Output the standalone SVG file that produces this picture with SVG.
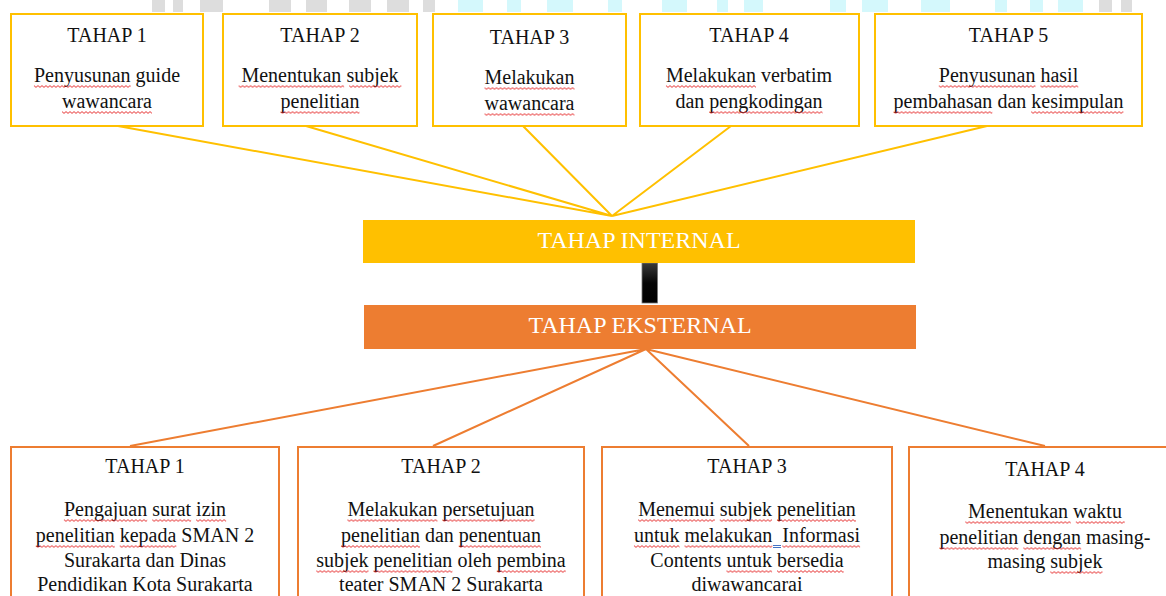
<svg xmlns="http://www.w3.org/2000/svg" width="1166" height="596" viewBox="0 0 1166 596">
<style>
.t{font-family:"Liberation Serif","Times New Roman",serif;font-size:20px;fill:#111;text-anchor:middle}
.bar{font-family:"Liberation Serif","Times New Roman",serif;font-size:24px;fill:#fff;text-anchor:middle}
.yb{fill:#fff;stroke:#FFC000;stroke-width:2}
.ob{fill:#fff;stroke:#ED7D31;stroke-width:2}
.yl{stroke:#FFC000;stroke-width:2;fill:none}
.ol{stroke:#ED7D31;stroke-width:2;fill:none}
.sq rect{fill:url(#wv)}
.wg{fill:#DDDDDD}
.wc{fill:#D4F8FC}
</style>
<defs>
<linearGradient id="blk" x1="0" y1="0" x2="0" y2="1">
<stop offset="0" stop-color="#3a3a3a"/>
<stop offset="0.5" stop-color="#050505"/>
<stop offset="1" stop-color="#000"/>
</linearGradient>
<pattern id="wv" width="4" height="3" patternUnits="userSpaceOnUse">
<path d="M0 0.6 L2 2.4 L4 0.6" fill="none" stroke="#e41b1b" stroke-width="0.9"/>
</pattern>
</defs>
<rect width="1166" height="596" fill="#fff"/>
<g id="watermark">
<rect class="wg" x="152" y="0" width="13" height="12"/>
<rect class="wg" x="173" y="0" width="10" height="12"/>
<rect class="wg" x="200" y="0" width="23" height="12"/>
<rect class="wg" x="269" y="0" width="22" height="12"/>
<rect class="wg" x="306" y="0" width="21" height="12"/>
<rect class="wg" x="349" y="0" width="22" height="12"/>
<rect class="wg" x="387" y="0" width="22" height="12"/>
<rect class="wg" x="423" y="0" width="12" height="12"/>
<rect class="wc" x="458" y="0" width="25" height="12"/>
<rect class="wc" x="507" y="0" width="14" height="12"/>
<rect class="wc" x="547" y="0" width="26" height="12"/>
<rect class="wc" x="608" y="0" width="14" height="12"/>
<rect class="wc" x="662" y="0" width="25" height="12"/>
<rect class="wc" x="717" y="0" width="11" height="12"/>
<rect class="wc" x="744" y="0" width="19" height="12"/>
<rect class="wc" x="830" y="0" width="16" height="12"/>
<rect class="wc" x="862" y="0" width="26" height="12"/>
<rect class="wc" x="921" y="0" width="29" height="12"/>
<rect class="wc" x="995" y="0" width="12" height="12"/>
<rect class="wc" x="1030" y="0" width="13" height="12"/>
<rect class="wc" x="1058" y="0" width="25" height="12"/>
<rect class="wg" x="1099" y="0" width="13" height="12"/>
<rect class="wg" x="1121" y="0" width="11" height="12"/>
</g>
<g id="connectors">
<path class="yl" d="M118 126 L612 216 M306 126 L612 216 M523 126 L612 216 M731 126 L612 216 M987 126 L612 216"/>
<path class="ol" d="M646 349 L130 446 M646 349 L433 446 M646 349 L749 446 M646 349 L1045 446"/>
<rect x="642" y="263" width="15.5" height="40" fill="url(#blk)" stroke="#777" stroke-width="0.8"/>
</g>
<g id="int-1">
<rect class="yb" x="11" y="14" width="192" height="112"/>
<text class="t" x="107" y="42">TAHAP 1</text>
<text class="t" x="107" y="82"><tspan>Penyusunan</tspan> guide</text>
<text class="t" x="107" y="108"><tspan>wawancara</tspan></text>
</g>
<g id="int-2">
<rect class="yb" x="223" y="14" width="194" height="112"/>
<text class="t" x="320" y="42">TAHAP 2</text>
<text class="t" x="320" y="82"><tspan>Menentukan</tspan> <tspan>subjek</tspan></text>
<text class="t" x="320" y="108"><tspan>penelitian</tspan></text>
</g>
<g id="int-3">
<rect class="yb" x="433" y="14" width="193" height="112"/>
<text class="t" x="529.5" y="44">TAHAP 3</text>
<text class="t" x="529.5" y="84"><tspan>Melakukan</tspan></text>
<text class="t" x="529.5" y="110"><tspan>wawancara</tspan></text>
</g>
<g id="int-4">
<rect class="yb" x="640" y="14" width="219" height="112"/>
<text class="t" x="749" y="42">TAHAP 4</text>
<text class="t" x="749" y="82"><tspan>Melakukan</tspan> verbatim</text>
<text class="t" x="749" y="108">dan <tspan>pengkodingan</tspan></text>
</g>
<g id="int-5">
<rect class="yb" x="875" y="14" width="267" height="112"/>
<text class="t" x="1008.5" y="42">TAHAP 5</text>
<text class="t" x="1008.5" y="82"><tspan>Penyusunan</tspan> <tspan>hasil</tspan></text>
<text class="t" x="1008.5" y="108"><tspan>pembahasan</tspan> dan <tspan>kesimpulan</tspan></text>
</g>
<g id="internal">
<rect x="363" y="220" width="552" height="43" fill="#FFC000"/>
<text class="bar" x="639" y="248">TAHAP INTERNAL</text>
</g>
<g id="external">
<rect x="364" y="305" width="552" height="44" fill="#ED7D31"/>
<text class="bar" x="640" y="333">TAHAP EKSTERNAL</text>
</g>
<g id="ext-1">
<rect class="ob" x="11" y="447" width="268" height="160"/>
<text class="t" x="145" y="473">TAHAP 1</text>
<text class="t" x="145" y="516"><tspan>Pengajuan</tspan> <tspan>surat</tspan> <tspan>izin</tspan></text>
<text class="t" x="145" y="542"><tspan>penelitian</tspan> <tspan>kepada</tspan> SMAN 2</text>
<text class="t" x="145" y="567">Surakarta dan Dinas</text>
<text class="t" x="145" y="591">Pendidikan Kota Surakarta</text>
</g>
<g id="ext-2">
<rect class="ob" x="298" y="447" width="286" height="160"/>
<text class="t" x="441" y="473">TAHAP 2</text>
<text class="t" x="441" y="516"><tspan>Melakukan</tspan> <tspan>persetujuan</tspan></text>
<text class="t" x="441" y="542"><tspan>penelitian</tspan> dan <tspan>penentuan</tspan></text>
<text class="t" x="441" y="567"><tspan>subjek</tspan> <tspan>penelitian</tspan> oleh <tspan>pembina</tspan></text>
<text class="t" x="441" y="591">teater SMAN 2 Surakarta</text>
</g>
<g id="ext-3">
<rect class="ob" x="602" y="447" width="290" height="160"/>
<text class="t" x="747" y="473">TAHAP 3</text>
<text class="t" x="747" y="516"><tspan>Menemui</tspan> <tspan>subjek</tspan> <tspan>penelitian</tspan></text>
<text class="t" x="747" y="542"><tspan>untuk</tspan> <tspan>melakukan</tspan>&#160; <tspan>Informasi</tspan></text>
<text class="t" x="747" y="567">Contents <tspan>untuk</tspan> <tspan>bersedia</tspan></text>
<text class="t" x="747" y="591">diwawancarai</text>
</g>
<g id="ext-4">
<rect class="ob" x="909" y="447" width="275" height="160"/>
<text class="t" x="1045" y="476">TAHAP 4</text>
<text class="t" x="1045" y="518"><tspan>Menentukan</tspan> <tspan>waktu</tspan></text>
<text class="t" x="1045" y="544"><tspan>penelitian</tspan> <tspan>dengan</tspan> masing-</text>
<text class="t" x="1045" y="568">masing <tspan>subjek</tspan></text>
</g>
<g id="spelling-marks" class="sq">
<rect width="96.7" height="3" transform="translate(33.95,85)"/>
<rect width="89.9" height="3" transform="translate(62.03,111)"/>
<rect width="105.5" height="3" transform="translate(238.62,85)"/>
<rect width="52.2" height="3" transform="translate(349.16,85)"/>
<rect width="78.9" height="3" transform="translate(280.56,111)"/>
<rect width="90" height="3" transform="translate(484.51,87)"/>
<rect width="89.9" height="3" transform="translate(484.53,113)"/>
<rect width="90" height="3" transform="translate(665.96,85)"/>
<rect width="113.3" height="3" transform="translate(709.28,111)"/>
<rect width="96.7" height="3" transform="translate(938.78,85)"/>
<rect width="37.8" height="3" transform="translate(1040.44,85)"/>
<rect width="98.7" height="3" transform="translate(893.61,111)"/>
<rect width="92.2" height="3" transform="translate(1031.17,111)"/>
<rect width="83.3" height="3" transform="translate(63.9,519)"/>
<rect width="38.9" height="3" transform="translate(152.22,519)"/>
<rect width="30" height="3" transform="translate(196.1,519)"/>
<rect width="78.9" height="3" transform="translate(35.85,545)"/>
<rect width="56.6" height="3" transform="translate(119.73,545)"/>
<rect width="90" height="3" transform="translate(347.41,519)"/>
<rect width="92.2" height="3" transform="translate(442.39,519)"/>
<rect width="78.9" height="3" transform="translate(341.02,545)"/>
<rect width="82.2" height="3" transform="translate(458.78,545)"/>
<rect width="52.2" height="3" transform="translate(316.29,570)"/>
<rect width="78.9" height="3" transform="translate(373.51,570)"/>
<rect width="68.9" height="3" transform="translate(496.83,570)"/>
<rect width="76.7" height="3" transform="translate(638.12,519)"/>
<rect width="52.2" height="3" transform="translate(719.78,519)"/>
<rect width="78.9" height="3" transform="translate(777,519)"/>
<rect width="45.6" height="3" transform="translate(633.96,545)"/>
<rect width="87.8" height="3" transform="translate(684.52,545)"/>
<rect width="77.8" height="3" transform="translate(782.28,545)"/>
<rect width="45.6" height="3" transform="translate(726.46,570)"/>
<rect width="66.6" height="3" transform="translate(777.02,570)"/>
<rect width="105.5" height="3" transform="translate(965.29,521)"/>
<rect width="48.9" height="3" transform="translate(1075.83,521)"/>
<rect width="78.9" height="3" transform="translate(939.46,547)"/>
<rect width="57.8" height="3" transform="translate(1023.34,547)"/>
<rect width="52.2" height="3" transform="translate(1050.28,571)"/>
<path d="M773 545.5 H781 M773 547.5 H781" stroke="#4472C4" stroke-width="1" fill="none"/>
</g>
</svg>
